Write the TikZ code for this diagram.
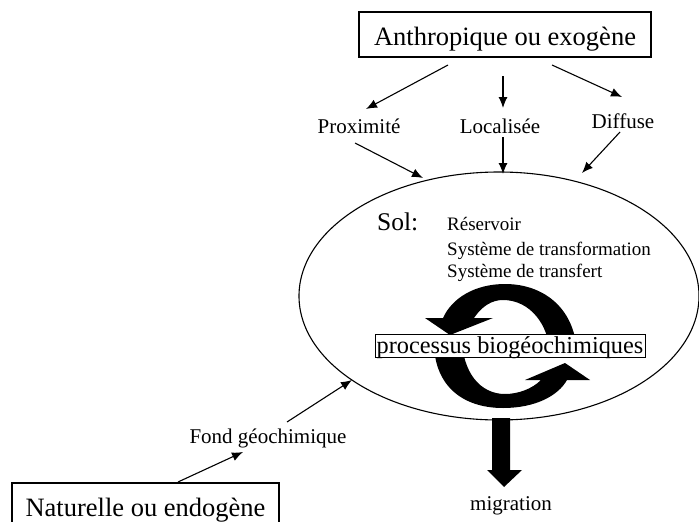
\documentclass[tikz,border=0pt]{standalone}
\usepackage{fontspec}
\setmainfont{Liberation Serif}
\usetikzlibrary{arrows.meta}
\newcommand\myfs[1]{\fontsize{#1}{#1}\selectfont}
\begin{document}
\begin{tikzpicture}[x=1pt,y=-1pt,
  arr/.style={line width=1.1pt,-{Latex[length=11pt,width=9pt]}},
  bigbox/.style={draw,line width=1.2pt,fill=white,inner sep=0pt,font=\myfs{26.5},
    text height=28pt,text depth=5.6pt,minimum height=45pt},
  lbl/.style={inner sep=0pt,anchor=base,font=\myfs{21}},
  soltxt/.style={inner sep=0pt,anchor=base west,font=\myfs{19}},
  crescent/.style={fill=black,draw=none}]
\useasboundingbox (0,0) rectangle (699,522);
% soil ellipse
\draw[line width=1.1pt] (499,296) ellipse [x radius=200, y radius=124];
% boxes
\node[bigbox,minimum width=292pt] (anthro) at (505,34.5) {Anthropique ou exogène};
\node[bigbox,minimum width=267pt] (nat) at (145.5,505.5) {Naturelle ou endogène};
% labels
\node[lbl] (prox) at (359,133) {Proximité};
\node[lbl] (loc) at (500,133) {Localisée};
\node[lbl] (diff) at (623,128) {Diffuse};
\node[lbl] (fond) at (268,443) {Fond géochimique};
\node[lbl] (migr) at (511,510) {migration};
\node[inner sep=0pt,anchor=base west,font=\myfs{25.5}] (sol) at (377,230) {Sol:};
\node[soltxt] (res) at (447,230) {Réservoir};
\node[soltxt] (trf) at (447,255) {Système de transformation};
\node[soltxt] (tsf) at (447,277) {Système de transfert};
% cycle crescents
\path[crescent] (577,357) .. controls (577,310) and (545,284) .. (505,284)
  .. controls (475,284) and (452,298) .. (443,318)
  -- (425,318) -- (450,335) -- (493,318) -- (474,318)
  .. controls (482,306) and (492,300) .. (503,300)
  .. controls (530,300) and (550,325) .. (550,357) -- cycle;
\path[crescent] (434,337) .. controls (432,385) and (462,408) .. (503,408)
  .. controls (535,408) and (558,396) .. (567,380)
  -- (590,380) -- (565,363) -- (525,380) -- (541,380)
  .. controls (532,389) and (518,394) .. (505,394)
  .. controls (480,394) and (462,372) .. (462,337) -- cycle;
\node[draw,line width=1pt,fill=white,inner sep=0pt,font=\myfs{24.3},
  text height=15pt,text depth=0pt,minimum height=23pt,minimum width=270pt]
  (proc) at (510,345.5) {processus biogéochimiques};
% migration arrow
\fill (492,418) -- (510,418) -- (510,470) -- (522,470) -- (504,487)
  -- (487,470) -- (492,470) -- cycle;
% connector end points
\coordinate (a1s) at (448,65);  \coordinate (a1e) at (366,109);
\coordinate (a2s) at (503,76);  \coordinate (a2e) at (503,108);
\coordinate (a3s) at (552,65);  \coordinate (a3e) at (622,97);
\coordinate (b1s) at (355,143); \coordinate (b1e) at (423,178);
\coordinate (b2s) at (503,137); \coordinate (b2e) at (503,174);
\coordinate (b3s) at (620,132); \coordinate (b3e) at (582,173);
\coordinate (c1s) at (178,482); \coordinate (c1e) at (243,452);
\coordinate (c2s) at (287,422); \coordinate (c2e) at (352,380);
\draw[arr] (a1s) -- (a1e);
\draw[arr] (a2s) -- (a2e);
\draw[arr] (a3s) -- (a3e);
\draw[arr] (b1s) -- (b1e);
\draw[arr] (b2s) -- (b2e);
\draw[arr] (b3s) -- (b3e);
\draw[arr] (c1s) -- (c1e);
\draw[arr] (c2s) -- (c2e);
\end{tikzpicture}
\end{document}
